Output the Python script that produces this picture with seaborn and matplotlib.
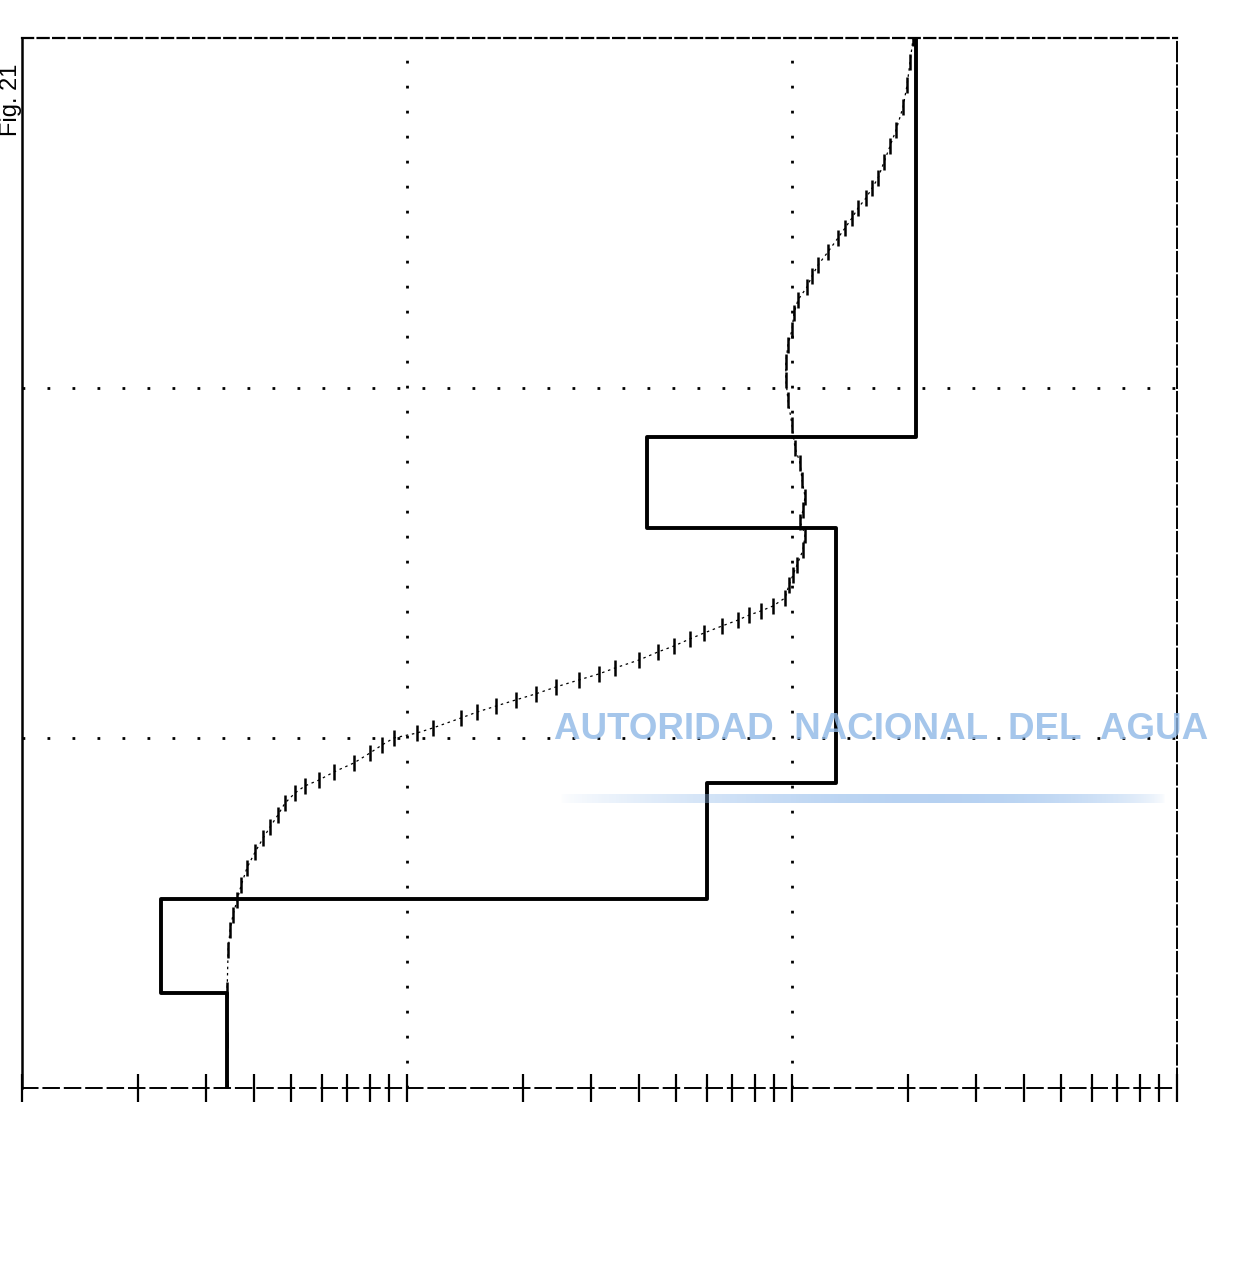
import numpy as np
import pandas as pd
import matplotlib
matplotlib.use("Agg")
import matplotlib.pyplot as plt
import seaborn as sns

# ---- data -------------------------------------------------------------
# stepped profile: value held between successive levels
step_levels = [0.0, 0.27, 0.54, 0.87, 1.60, 1.86, 3.0]
step_values = [3.4, 2.3, 60.0, 130.0, 42.0, 210.0]

# measured (tick-marked) curve
curve_x = [3.41, 3.41, 3.41, 3.43, 3.47, 3.53, 3.62, 3.71, 3.84, 4.03,
           4.23, 4.41, 4.62, 4.82, 5.12, 5.43, 5.91, 6.46, 7.29, 8.01,
           8.61, 9.25, 10.6, 11.7, 13.8, 15.2, 17.0, 19.2, 21.6, 24.4,
           28.0, 31.5, 34.7, 40.1, 44.9, 49.4, 54.3, 59.1, 65.8, 72.4,
           77.3, 83.1, 89.2, 95.9, 98.2, 100.6, 103.0, 106.8, 108.1, 104.9,
           106.8, 108.1, 106.2, 104.9, 101.8, 100.0, 97.6, 96.4, 96.4, 97.6,
           100.0, 101.2, 103.6, 109.4, 112.7, 116.8, 124.0, 131.7, 137.3, 143.2,
           148.4, 155.7, 161.4, 167.3, 173.4, 179.7, 186.3, 194.3, 199.0, 202.6,
           206.3]
curve_y = [0.0, 0.137, 0.28, 0.394, 0.451, 0.494, 0.537, 0.58, 0.629, 0.674,
           0.714, 0.746, 0.78, 0.814, 0.843, 0.863, 0.88, 0.903, 0.929, 0.957,
           0.98, 1.0, 1.014, 1.029, 1.057, 1.074, 1.091, 1.109, 1.126, 1.146,
           1.166, 1.183, 1.2, 1.223, 1.246, 1.263, 1.283, 1.3, 1.32, 1.337,
           1.351, 1.363, 1.377, 1.4, 1.437, 1.466, 1.494, 1.537, 1.58, 1.617,
           1.651, 1.689, 1.737, 1.786, 1.829, 1.894, 1.966, 2.023, 2.074, 2.123,
           2.166, 2.214, 2.251, 2.289, 2.32, 2.351, 2.389, 2.429, 2.457, 2.486,
           2.514, 2.543, 2.571, 2.6, 2.646, 2.691, 2.737, 2.803, 2.866, 2.931,
           3.0]

grid_x = [10, 100]
grid_y = [1.0, 2.0]
fig_label = "Fig. 21"
watermark = "AUTORIDAD  NACIONAL  DEL  AGUA"

# ---- build tables -----------------------------------------------------
sx, sy = [], []
for i, v in enumerate(step_values):
    sx += [v, v]
    sy += [step_levels[i], step_levels[i + 1]]
step_df = pd.DataFrame({"x": sx, "y": sy})
curve_df = pd.DataFrame({"x": curve_x, "y": curve_y})

# ---- figure -------------------------------------------------------------
sns.set_style("white")
plt.rcParams["font.family"] = ["Liberation Sans", "DejaVu Sans"]
fig = plt.figure(figsize=(12.52, 12.75), dpi=100)
ax = fig.add_axes([0.0176, 0.1467, 0.9225, 0.8235])
ax.set_xscale("log")
ax.set_xlim(1, 1000)
ax.set_ylim(0, 3)

# dotted grid
for gx in grid_x:
    ax.axvline(gx, color="black", lw=2.0, ls=(0, (1, 8)), zorder=1)
for gy in grid_y:
    ax.axhline(gy, color="black", lw=2.0, ls=(0, (1, 8)), zorder=1)

sns.lineplot(data=step_df, x="x", y="y", sort=False, estimator=None,
             color="black", lw=2.8, ax=ax, zorder=3)
sns.lineplot(data=curve_df, x="x", y="y", sort=False, estimator=None,
             color="black", lw=0.9, ls=(0, (2, 3)), marker="|",
             markersize=11, markeredgewidth=1.8, markeredgecolor="black",
             ax=ax, zorder=4)

ax.set_xlabel("")
ax.set_ylabel("")
ax.set_xticklabels([], minor=False)
ax.set_xticklabels([], minor=True)
ax.set_yticks([])
ax.tick_params(axis="x", which="both", direction="inout", bottom=True,
               length=20, width=1.6, color="black")
for name, sp in ax.spines.items():
    sp.set_color("black")
ax.spines["left"].set_linewidth(1.8)
ax.spines["right"].set_linewidth(1.4)
ax.spines["right"].set_linestyle((0, (10, 2)))
ax.spines["top"].set_linewidth(1.6)
ax.spines["top"].set_linestyle((0, (5, 2)))
ax.spines["bottom"].set_linewidth(1.4)
ax.spines["bottom"].set_linestyle((0, (8, 3)))

# figure label at the left edge
fig.text(0.0085, 0.922, fig_label, rotation=90, fontsize=17,
         ha="center", va="center", color="black")

# watermark text
fig.text(0.704, 0.4275, watermark, fontsize=26.5, fontweight="bold",
         color="#8fb8e6", alpha=0.8, ha="center", va="center", zorder=10)

# gradient bar of the watermark
wax = fig.add_axes([0.447, 0.370, 0.484, 0.007])
wax.axis("off")
t = np.linspace(0, 1, 400)
alpha = np.clip(np.sin(np.pi * t) ** 0.6, 0, 1) * (0.35 + 0.5 * t)
rgba = np.zeros((1, 400, 4))
rgba[..., 0] = 0.55
rgba[..., 1] = 0.72
rgba[..., 2] = 0.92
rgba[..., 3] = alpha
wax.imshow(rgba, aspect="auto")

fig.savefig("out.png", dpi=100, facecolor="white")
